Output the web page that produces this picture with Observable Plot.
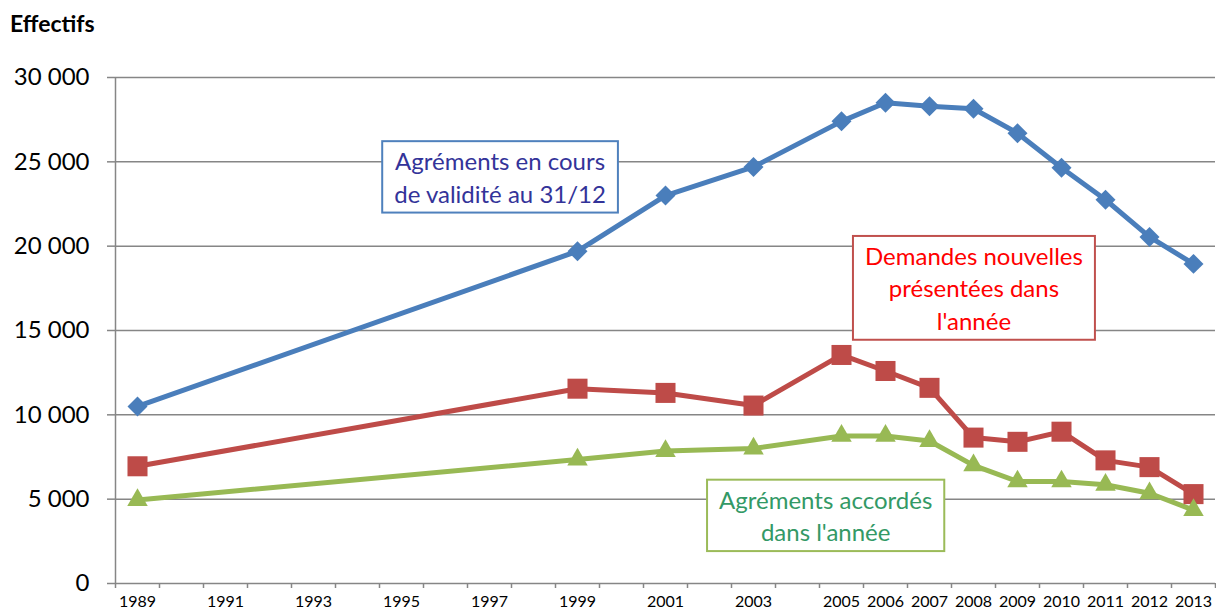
<!DOCTYPE html>
<html><head><meta charset="utf-8">
<script src="https://cdn.jsdelivr.net/npm/d3@7"></script>
<script src="https://cdn.jsdelivr.net/npm/@observablehq/plot@0.6"></script>
<style>
body{margin:0;background:#fff;font-family:Lato,"Open Sans",sans-serif;}
#title{height:40px;line-height:46px;padding-left:10px;font-weight:bold;font-size:23px;color:#000;overflow:visible;}
</style>
</head><body>
<div id="title">Effectifs</div>
<div id="chart"></div>
<script>
// ---- data ----
const years = [1989,1999,2001,2003,2005,2006,2007,2008,2009,2010,2011,2012,2013];
const agrementsEnCours   = [10500,19700,23000,24700,27400,28500,28300,28150,26700,24650,22750,20550,18950];
const demandesNouvelles  = [6950,11550,11300,10550,13550,12600,11600,8650,8400,9000,7300,6900,5300];
const agrementsAccordes  = [4950,7350,7850,8000,8750,8750,8450,7000,6050,6050,5850,5350,4350];
const seriesNames  = ["Agréments en cours de validité au 31/12","Demandes nouvelles présentées dans l'année","Agréments accordés dans l'année"];
const seriesColors = ["#4A7EBB","#BE4B48","#98B954"];
const seriesSymbols = ["diamond2","square","triangle"];
const seriesR = [9,11.3,7.6];
const xTickLabels = [1989,1991,1993,1995,1997,1999,2001,2003,2005,2006,2007,2008,2009,2010,2011,2012,2013];
const xFirst = 1989, xLast = 2013;
const yTicks = [0,5000,10000,15000,20000,25000,30000];
// annotation boxes (anchored in data units)
const labelTexts  = ["Agréments en cours\nde validité au 31/12","Demandes nouvelles\nprésentées dans\nl'année","Agréments accordés\ndans l'année"];
const labelYears  = [1997.24, 2008.01, 2004.64];
const labelValues = [24160, 17580, 4090];
const labelTextColors   = ["#333399","#FF0000","#339966"];
const labelBorderColors = ["#4F81BD","#C0504D","#9BBB59"];

// ---- tables ----
const seriesValues = [agrementsEnCours, demandesNouvelles, agrementsAccordes];
const rows = [];
seriesValues.forEach((vals, s) => years.forEach((yr, i) => rows.push({year: yr, value: vals[i], s})));
const labels = labelTexts.map((t, i) => ({t, x: labelYears[i], y: labelValues[i], c: labelTextColors[i], b: labelBorderColors[i]}));
const boundaries = d3.range(xFirst - 0.5, xLast + 1, 1);
const fmt = d => d3.format(",")(d).replace(/,/g, "\u00a0");

const marks = [
  Plot.gridY(yTicks, {stroke: "#868686", strokeOpacity: 1, strokeWidth: 1.5}),
  Plot.ruleX([xFirst - 0.5], {stroke: "#868686", strokeWidth: 1.5}),
  Plot.axisY(yTicks, {tickSize: 8, tickPadding: 18, tickFormat: fmt, fontSize: 24, stroke: "#868686", strokeWidth: 1.5, fill: "#000", label: null}),
  Plot.axisX(boundaries, {tickSize: 5, tickFormat: () => "", stroke: "#868686", strokeWidth: 1.5, label: null}),
  Plot.axisX(xTickLabels, {tickSize: 0, tickPadding: 12, tickFormat: d => String(d), fontSize: 16, fill: "#000", label: null})
];
seriesValues.forEach((vals, s) => {
  const d = rows.filter(r => r.s === s);
  marks.push(Plot.line(d, {x: "year", y: "value", stroke: seriesColors[s], strokeWidth: 5, strokeLinejoin: "round"}));
});
seriesValues.forEach((vals, s) => {
  const d = rows.filter(r => r.s === s);
  marks.push(Plot.dot(d, {x: "year", y: "value", symbol: () => seriesSymbols[s], r: seriesR[s], fill: seriesColors[s], stroke: "none"}));
});
marks.push(Plot.text(labels, {x: "x", y: "y", text: "t", fill: "c", fontSize: 24, lineHeight: 1.35, textAnchor: "middle", lineAnchor: "middle"}));

const chart = Plot.plot({
  width: 1216, height: 569,
  marginTop: 37, marginBottom: 26, marginLeft: 115, marginRight: 1,
  style: {fontFamily: "Lato, 'Open Sans', sans-serif", background: "#fff", overflow: "visible"},
  x: {domain: [xFirst - 0.5, xLast + 0.5], axis: null},
  y: {domain: [0, 30000], axis: null},
  symbol: {type: "identity"},
  marks
});
document.getElementById("chart").appendChild(chart);

// draw boxes behind the annotation texts
const g = chart.querySelector('g[aria-label="text"]');
if (g) {
  const texts = Array.from(g.querySelectorAll(":scope > text"));
  texts.forEach((t, i) => {
    const bb = t.getBBox();
    const padX = 12, padY = 5;
    const r = document.createElementNS("http://www.w3.org/2000/svg", "rect");
    r.setAttribute("x", bb.x - padX);
    r.setAttribute("y", bb.y - padY);
    r.setAttribute("width", bb.width + 2 * padX);
    r.setAttribute("height", bb.height + 2 * padY);
    const tr = t.getAttribute("transform");
    if (tr) r.setAttribute("transform", tr);
    r.setAttribute("fill", "#fff");
    r.setAttribute("stroke", labels[i].b);
    r.setAttribute("stroke-width", 2);
    g.insertBefore(r, t);
  });
}
</script>
</body></html>
